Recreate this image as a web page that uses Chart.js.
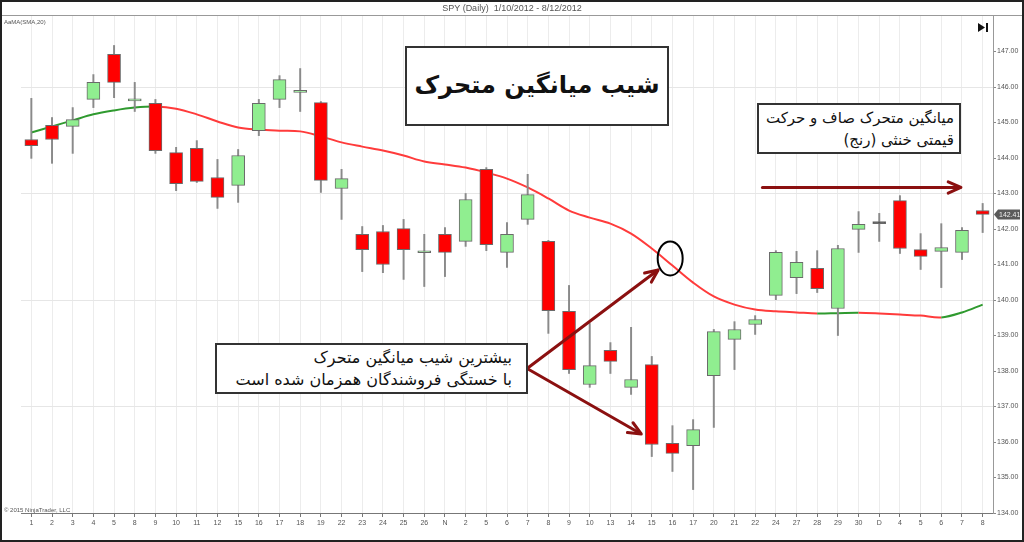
<!DOCTYPE html>
<html>
<head>
<meta charset="utf-8">
<script src="https://cdn.jsdelivr.net/npm/chart.js@4.4.1/dist/chart.umd.min.js"></script>
<style>
  html, body { margin: 0; padding: 0; background: #fff; }
  #wrap { position: relative; width: 1024px; height: 542px; overflow: hidden; box-sizing: border-box; }
  #c { position: absolute; left: 0; top: 0; }
  .frame { position: absolute; left: 0; top: 0; width: 1024px; height: 542px; box-sizing: border-box; border: 2px solid #222; pointer-events: none; }
  .txt { position: absolute; font-family: "Liberation Sans", Arial, sans-serif; color: #555; white-space: nowrap; }
  .box { position: absolute; background: #fff; border: 2px solid #333; box-sizing: border-box; font-family: "DejaVu Sans", sans-serif; color: #111; direction: rtl; white-space: nowrap; }
</style>
</head>
<body>
<div id="wrap">
  <canvas id="c" width="1024" height="542"></canvas>
  <div class="txt" style="left:0;width:1024px;top:3px;text-align:center;font-size:9px;">SPY (Daily)&nbsp; 1/10/2012 - 8/12/2012</div>
  <div class="txt" style="left:4px;top:19px;font-size:6px;">AaMA(SMA,20)</div>
  <div class="txt" style="left:4px;top:507px;font-size:6px;">© 2015 NinjaTrader, LLC</div>
  <div class="box" style="left:405px;top:46px;width:264px;height:80px;text-align:center;line-height:74px;font-size:24px;font-weight:bold;">شیب میانگین متحرک</div>
  <div class="box" style="left:757px;top:103px;width:204px;height:51px;text-align:right;padding:2px 5px 0 0;font-size:15px;line-height:22px;">میانگین متحرک صاف و حرکت<br>قیمتی خنثی (رنج)</div>
  <div class="box" style="left:215px;top:343px;width:313px;height:51px;text-align:right;padding:2px 14px 0 0;font-size:16px;line-height:22px;">بیشترین شیب میانگین متحرک<br>با خستگی فروشندگان همزمان شده است</div>
  <div class="frame"></div>
</div>
<script>
// ---- data ----
const labels = ["1","2","3","4","5","8","9","10","11","12","15","16","17","18","19","22","23","24","25","26","N","2","5",
                "6","7","8","9","10","13","14","15","16","17","20","21","22","24","27","28","29","30","D","4","5","6","7","8"];
const openP  = [144.52,144.92,144.89,145.65,146.92,145.61,145.54,144.15,144.27,143.45,143.23,144.77,145.65,145.85,145.56,143.14,141.85,141.93,142.01,141.33,141.85,141.65,143.68,
                141.34,142.27,141.65,139.68,137.62,138.58,137.54,138.18,135.96,135.90,137.87,138.89,139.31,140.13,140.63,140.89,139.76,141.99,142.15,142.80,141.42,141.37,141.34,142.52];
const highP  = [145.68,145.14,145.42,146.35,147.17,146.13,145.65,144.30,144.49,143.96,144.24,145.65,146.32,146.52,145.59,143.68,142.07,142.10,142.27,141.85,142.04,143.00,143.73,
                142.18,143.54,141.68,140.41,139.34,138.80,139.23,138.41,136.46,136.63,139.17,139.39,139.56,141.39,141.37,141.39,141.54,142.49,142.44,142.94,141.87,142.15,142.04,142.72];
const lowP   = [143.99,143.85,144.13,145.42,145.70,145.31,144.13,143.08,143.31,142.58,142.75,144.63,145.42,145.31,143.03,142.27,140.80,140.77,140.58,140.38,140.66,141.51,141.39,
                140.92,142.13,139.06,137.93,137.54,137.93,137.34,135.59,135.17,134.66,136.41,138.04,139.03,140.01,140.18,140.21,139.00,141.34,141.65,141.31,140.86,140.35,141.14,141.90];
const closeP = [144.35,144.52,145.08,146.13,146.13,145.63,144.21,143.28,143.34,142.89,144.07,145.54,146.21,145.86,143.37,143.42,141.42,141.00,141.42,141.35,141.34,142.83,141.56,
                141.85,142.97,139.70,138.04,138.15,138.27,137.76,135.93,135.68,136.35,139.11,139.17,139.45,141.34,141.06,140.32,141.45,142.13,142.15,141.45,141.23,141.48,141.96,142.41];
const sma20  = [144.72,144.89,145.06,145.23,145.34,145.42,145.45,145.39,145.23,145.03,144.86,144.80,144.77,144.75,144.61,144.44,144.32,144.21,144.07,143.90,143.82,143.73,143.59,
                143.42,143.17,142.86,142.52,142.32,142.15,141.87,141.45,140.97,140.49,140.10,139.87,139.73,139.68,139.65,139.62,139.63,139.64,139.62,139.59,139.56,139.51,139.65,139.87];
const yMin = 134, yMax = 148;
const gridLevels = [146, 143, 140, 137];

// ---- derived ----
const bodyData = openP.map((o, i) => [o, closeP[i]]);
const wickData = lowP.map((l, i) => [l, highP[i]]);
const bodyColors = openP.map((o, i) => closeP[i] > o ? '#90ee90' : (closeP[i] < o ? '#ff0000' : '#444'));
const GREEN = '#2f9a2f', RED = '#ff3b3b', ARROW = '#8b1010';

const decor = {
  id: 'decor',
  afterDatasetsDraw(chart) {
    const ctx = chart.ctx, xs = chart.scales.x, ys = chart.scales.y, a = chart.chartArea;
    const P = (i, v) => [xs.getPixelForValue(i), ys.getPixelForValue(v)];
    ctx.save();
    ctx.strokeStyle = '#999'; ctx.lineWidth = 1;
    ctx.beginPath(); ctx.moveTo(0, 15.5); ctx.lineTo(1024, 15.5); ctx.stroke();
    function arrow(x0, y0, x1, y1) {
      ctx.strokeStyle = ARROW; ctx.fillStyle = ARROW; ctx.lineWidth = 3; ctx.lineCap = 'round';
      ctx.beginPath(); ctx.moveTo(x0, y0); ctx.lineTo(x1, y1); ctx.stroke();
      const ang = Math.atan2(y1 - y0, x1 - x0), L = 13;
      ctx.beginPath();
      ctx.moveTo(x1 + Math.cos(ang), y1 + Math.sin(ang));
      ctx.lineTo(x1 - L * Math.cos(ang - 0.45), y1 - L * Math.sin(ang - 0.45));
      ctx.moveTo(x1 + Math.cos(ang), y1 + Math.sin(ang));
      ctx.lineTo(x1 - L * Math.cos(ang + 0.45), y1 - L * Math.sin(ang + 0.45));
      ctx.stroke();
    }
    const o = P(23.97, 138.07);
    const t1 = P(30.27, 140.83), t2 = P(29.45, 136.24);
    arrow(o[0], o[1], t1[0], t1[1]);
    arrow(o[0], o[1], t2[0], t2[1]);
    const h0 = P(35.35, 143.17), h1 = P(44.9, 143.17);
    arrow(h0[0], h0[1], h1[0], h1[1]);
    const c = P(30.89, 141.17);
    ctx.strokeStyle = '#000'; ctx.lineWidth = 2;
    ctx.beginPath(); ctx.ellipse(c[0], c[1], 12.5, 17, 0, 0, Math.PI * 2); ctx.stroke();
    const ly = ys.getPixelForValue(closeP[closeP.length - 1]);
    ctx.fillStyle = '#5a5a5a';
    ctx.beginPath(); ctx.moveTo(a.right + 1, ly); ctx.lineTo(a.right + 5, ly - 5); ctx.lineTo(1020, ly - 5);
    ctx.lineTo(1020, ly + 5); ctx.lineTo(a.right + 5, ly + 5); ctx.closePath(); ctx.fill();
    ctx.fillStyle = '#eee'; ctx.font = '7px "Liberation Sans", Arial'; ctx.textBaseline = 'middle';
    ctx.fillText(closeP[closeP.length - 1].toFixed(2), a.right + 6, ly + 0.5);
    ctx.fillStyle = '#111';
    ctx.beginPath(); ctx.moveTo(978, 23); ctx.lineTo(985, 27.5); ctx.lineTo(978, 32); ctx.closePath(); ctx.fill();
    ctx.fillRect(986, 23, 2, 9);
    ctx.restore();
  }
};

new Chart(document.getElementById('c'), {
  data: {
    labels,
    datasets: [
      { type: 'line', data: sma20, order: 3, borderWidth: 2, pointRadius: 0, tension: 0.35,
        borderColor: RED,
        segment: { borderColor: c => c.p1.parsed.y >= c.p0.parsed.y ? GREEN : RED } },
      { type: 'bar', data: wickData, order: 2, backgroundColor: '#8a8a8a', barThickness: 1.3, grouped: false },
      { type: 'bar', data: bodyData, order: 1, backgroundColor: bodyColors, borderColor: '#6a6a6a', borderWidth: 1,
        borderSkipped: false, barThickness: 13, grouped: false, minBarLength: 2 }
    ]
  },
  options: {
    responsive: false, animation: false, devicePixelRatio: 1,
    layout: { padding: { left: 21, top: 16, right: 0, bottom: 0 } },
    plugins: { legend: { display: false }, tooltip: { enabled: false } },
    scales: {
      x: {
        type: 'category', offset: true,
        grid: { offset: false, color: '#ececec', lineWidth: 1, drawTicks: true, tickLength: 4, tickColor: '#777' },
        border: { color: '#777', width: 1 },
        ticks: { color: '#555', font: { size: 7, family: '"Liberation Sans", Arial' }, padding: 2, maxRotation: 0, autoSkip: false },
        afterFit: s => { s.height = 29; }
      },
      y: {
        position: 'right', min: yMin, max: yMax,
        grid: { color: c => gridLevels.includes(c.tick.value) ? '#e6e6e6' : 'rgba(0,0,0,0)',
                drawTicks: true, tickLength: 3, tickColor: c => c.tick.value >= yMax ? 'rgba(0,0,0,0)' : '#888' },
        border: { color: '#999', width: 1 },
        ticks: { stepSize: 1, color: '#555', font: { size: 7, family: '"Liberation Sans", Arial' }, padding: 1,
                 callback: v => (v >= yMax ? '' : Number(v).toFixed(2)) },
        afterFit: s => { s.width = 31; }
      }
    }
  },
  plugins: [decor]
});
</script>
</body>
</html>
